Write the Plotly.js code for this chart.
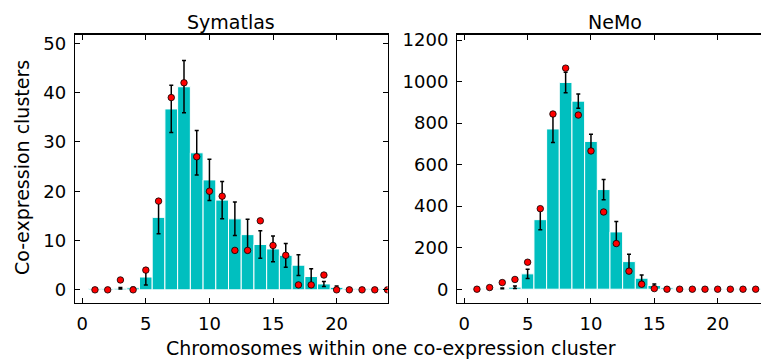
<!DOCTYPE html>
<html>
<head>
<meta charset="utf-8">
<script src="https://cdn.plot.ly/plotly-3.0.1.min.js"></script>
<style>html,body{margin:0;padding:0;background:#fff;}#chart{width:761px;height:361px;}</style>
</head>
<body>
<div id="chart"></div>
<script>
// Chromosome counts (x categories)
const chromosomes = [1,2,3,4,5,6,7,8,9,10,11,12,13,14,15,16,17,18,19,20,21,22,23,24];

// Symatlas: randomized mean (bars), std (error bars), observed (dots)
const symatlasMean = [0.25,0.25,0.3,0.4,2.6,14.7,36.7,41.2,27.8,22.3,18.2,14.4,11.2,9.2,8.3,7.0,5.0,2.7,1.2,0.5,0.25,0.25,0.25,0.25];
const symatlasErr  = [0,0,0.15,0.1,1.6,3.3,4.8,5.3,4.5,4.2,3.8,3.4,3.1,2.8,2.6,2.4,2.1,1.6,0.5,0.3,0,0,0,0];
const symatlasObs  = [0,0,2,0,4,18,39,42,27,20,19,8,8,14,9,7,1,1,3,0,0,0,0,0];

// NeMo
const nemoMean = [2,3,4,10,74,335,772,996,906,712,480,276,133,53,18,7,4,3,3,3,3,3,3,3];
const nemoErr  = [0,1,2,6,22,49,65,49,34,35,49,50,35,16,7,3,1,1,0,0,0,0,0,0];
const nemoObs  = [0,8,32,47,130,388,844,1065,839,666,372,220,87,24,3,0,0,0,0,0,0,0,0,0];

const subplotTitles = ["Symatlas", "NeMo"];
const xTitle = "Chromosomes within one co-expression cluster";
const yTitle = "Co-expression clusters";

const barColor = "#00BFBF";
const W = 761, H = 361;
const FONT = "DejaVu Sans";

function barTrace(y, err, xa, ya) {
  return {
    type: "bar", x: chromosomes, y: y, xaxis: xa, yaxis: ya,
    width: 1,
    marker: {color: barColor, line: {color: "#ffffff", width: 1}},
    error_y: {type: "data", array: err, visible: true, color: "#000000", thickness: 1.5, width: 2},
    showlegend: false, hoverinfo: "skip"
  };
}
function dotTrace(y, xa, ya) {
  return {
    type: "scatter", mode: "markers", x: chromosomes, y: y, xaxis: xa, yaxis: ya,
    marker: {color: "#ff0000", size: 6.5, line: {color: "#000000", width: 0.8}},
    cliponaxis: true, showlegend: false, hoverinfo: "skip"
  };
}

const data = [
  barTrace(symatlasMean, symatlasErr, "x", "y"),
  dotTrace(symatlasObs, "x", "y"),
  barTrace(nemoMean, nemoErr, "x2", "y2"),
  dotTrace(nemoObs, "x2", "y2")
];

const yDom = [(H - 302.5) / H, (H - 34.5) / H];
const axisCommon = {
  showline: true, linecolor: "#000", linewidth: 1.3,
  ticks: "inside", ticklen: 5, tickwidth: 1, tickcolor: "#000",
  showgrid: false, zeroline: false,
  tickfont: {family: FONT, size: 18, color: "#000"}
};

const layout = {
  width: W, height: H,
  margin: {l: 0, r: 0, t: 0, b: 0},
  paper_bgcolor: "#fff", plot_bgcolor: "#fff",
  font: {family: FONT, size: 19, color: "#000"},
  bargap: 0,
  xaxis: Object.assign({}, axisCommon, {
    domain: [75 / W, 387.5 / W], range: [-0.57, 24.0], tick0: 0, dtick: 5,
    mirror: "ticks", anchor: "y", ticklabelstandoff: 5
  }),
  yaxis: Object.assign({}, axisCommon, {
    domain: yDom, range: [-2.57, 51.8], tick0: 0, dtick: 10,
    mirror: "ticks", anchor: "x", ticklabelstandoff: 4
  }),
  xaxis2: Object.assign({}, axisCommon, {
    domain: [457.3 / W, 1], range: [-0.55, 23.42], tick0: 0, dtick: 5,
    mirror: "ticks", anchor: "y2", ticklabelstandoff: 5
  }),
  yaxis2: Object.assign({}, axisCommon, {
    domain: yDom, range: [-64, 1227], tick0: 0, dtick: 200,
    mirror: false, anchor: "x2", ticklabelstandoff: 4
  }),
  annotations: [
    {text: subplotTitles[0], xref: "paper", yref: "paper", x: 231 / W, y: 1 - 22 / H,
     xanchor: "center", yanchor: "middle", showarrow: false, font: {size: 19}},
    {text: subplotTitles[1], xref: "paper", yref: "paper", x: 615 / W, y: 1 - 22 / H,
     xanchor: "center", yanchor: "middle", showarrow: false, font: {size: 19}},
    {text: xTitle, xref: "paper", yref: "paper", x: 391.5 / W, y: 1 - 348 / H,
     xanchor: "center", yanchor: "middle", showarrow: false, font: {size: 19}},
    {text: yTitle, xref: "paper", yref: "paper", x: 22 / W, y: 1 - 168 / H,
     xanchor: "center", yanchor: "middle", showarrow: false, textangle: -90, font: {size: 19}}
  ]
};

Plotly.newPlot("chart", data, layout, {staticPlot: true, displayModeBar: false});
</script>
</body>
</html>
